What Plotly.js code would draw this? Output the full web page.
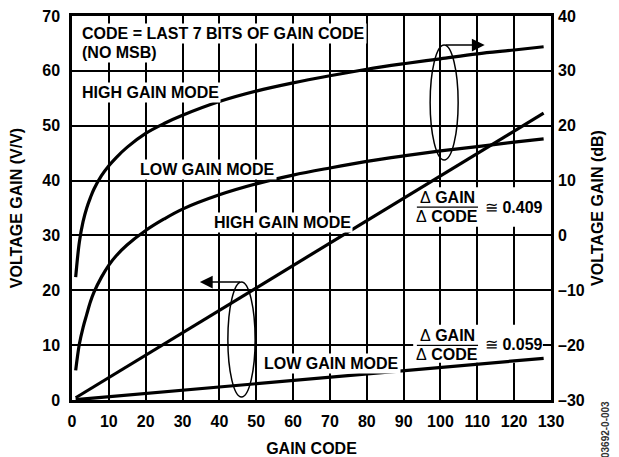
<!DOCTYPE html>
<html>
<head>
<meta charset="utf-8">
<script src="https://cdn.plot.ly/plotly-3.0.1.min.js"></script>
<style>html,body{margin:0;padding:0;background:#fff;}</style>
</head>
<body>
<div id="chart" style="width:619px;height:457px;"></div>
<script>
// Gain in dB (right axis) vs gain code
var codesDb = [1, 2, 3, 4, 5, 6, 8, 10, 12, 15, 20, 25, 30, 40, 50, 60, 70, 80, 90, 100, 110, 120, 128];
var highGainDb = [-7.6, -1.2, 2.5, 5.0, 6.9, 8.5, 10.9, 12.7, 14.2, 16.1, 18.6, 20.4, 21.9, 24.4, 26.3, 27.8, 29.1, 30.3, 31.3, 32.2, 33.1, 33.8, 34.4];
var lowGainDb = [-24.6, -19.8, -16.8, -14.4, -12.1, -10.3, -7.6, -5.4, -3.7, -1.7, 0.9, 3.0, 4.8, 7.4, 9.4, 11.0, 12.3, 13.5, 14.5, 15.4, 16.2, 17.0, 17.6];
// Gain in V/V (left axis) vs gain code
var codesVv = [1, 128];
var highGainVv = [0.41, 52.3];
var lowGainVv = [0.06, 7.6];
// Tick labels
var xTicks = [0, 10, 20, 30, 40, 50, 60, 70, 80, 90, 100, 110, 120, 130];
var yTicks = [0, 10, 20, 30, 40, 50, 60, 70];
var y2Ticks = [-30, -20, -10, 0, 10, 20, 30, 40];
var y2TickText = ['\u201330', '\u201320', '\u201310', '0', '10', '20', '30', '40'];

var FONT = 'Liberation Sans, Arial, Helvetica, sans-serif';
var bold = {family: FONT, size: 16, color: '#000', weight: 'bold'};
var curve = {color: '#000', width: 3.2};

var traces = [
  {x: codesDb, y: highGainDb, yaxis: 'y2', mode: 'lines', line: Object.assign({shape: 'spline'}, curve), name: 'HIGH GAIN MODE (dB)'},
  {x: codesDb, y: lowGainDb, yaxis: 'y2', mode: 'lines', line: Object.assign({shape: 'spline'}, curve), name: 'LOW GAIN MODE (dB)'},
  {x: codesVv, y: highGainVv, yaxis: 'y', mode: 'lines', line: curve, name: 'HIGH GAIN MODE (V/V)'},
  {x: codesVv, y: lowGainVv, yaxis: 'y', mode: 'lines', line: curve, name: 'LOW GAIN MODE (V/V)'}
];

function lbl(text, x, y, extra) {
  return Object.assign({text: text, x: x, y: y, xref: 'x', yref: 'y', xanchor: 'left', yanchor: 'middle',
    showarrow: false, font: bold, bgcolor: '#fff', borderpad: 1}, extra || {});
}
var D = '<span style="font-weight:normal">\u0394</span>';
var APPROX = '<span style="font-weight:normal">\u2245</span>';

var annotations = [
  lbl('CODE = LAST 7 BITS OF GAIN CODE', 2.2, 66.9),
  lbl('(NO MSB)', 2.2, 63.3),
  lbl('HIGH GAIN MODE', 2.2, 56.1),
  lbl('LOW GAIN MODE', 18.0, 42.1),
  lbl('HIGH GAIN MODE', 38.1, 32.4),
  lbl('LOW GAIN MODE', 51.6, 6.7),
  // 0.409 box
  lbl(D + ' GAIN', 101.9, 36.9, {xanchor: 'center', bgcolor: 'rgba(0,0,0,0)'}),
  lbl(D + ' CODE', 101.9, 33.5, {xanchor: 'center', bgcolor: 'rgba(0,0,0,0)'}),
  lbl(APPROX + ' 0.409', 111.6, 35.1, {bgcolor: 'rgba(0,0,0,0)'}),
  // 0.059 box
  lbl(D + ' GAIN', 101.9, 11.7, {xanchor: 'center', bgcolor: 'rgba(0,0,0,0)'}),
  lbl(D + ' CODE', 101.9, 8.3, {xanchor: 'center', bgcolor: 'rgba(0,0,0,0)'}),
  lbl(APPROX + ' 0.059', 111.6, 10.2, {bgcolor: 'rgba(0,0,0,0)'}),
  // arrows
  {x: 112, y: 34.7, xref: 'x', yref: 'y2', ax: 101, ay: 34.7, axref: 'x', ayref: 'y2', showarrow: true,
    arrowhead: 2, arrowsize: 1.6, arrowwidth: 1.6, arrowcolor: '#000', standoff: 0, text: ''},
  {x: 34.7, y: 21.5, xref: 'x', yref: 'y', ax: 46, ay: 21.5, axref: 'x', ayref: 'y', showarrow: true,
    arrowhead: 2, arrowsize: 1.6, arrowwidth: 1.6, arrowcolor: '#000', standoff: 0, text: ''},
  // figure id
  {text: '03692-0-003', x: 1.115, y: -0.078, xref: 'paper', yref: 'paper', xanchor: 'center', yanchor: 'middle',
    showarrow: false, textangle: -90, font: {family: FONT, size: 10, color: '#333'}}
];

var shapes = [
  {type: 'rect', xref: 'x', yref: 'y', x0: 92.6, x1: 127.8, y0: 31.6, y1: 38.8, fillcolor: '#fff', line: {width: 0}, layer: 'between'},
  {type: 'rect', xref: 'x', yref: 'y', x0: 92.6, x1: 127.8, y0: 6.8, y1: 13.7, fillcolor: '#fff', line: {width: 0}, layer: 'between'},
  {type: 'line', xref: 'x', yref: 'y', x0: 93.6, x1: 110.2, y0: 35.15, y1: 35.15, line: {color: '#000', width: 1.2}},
  {type: 'line', xref: 'x', yref: 'y', x0: 93.6, x1: 110.2, y0: 9.95, y1: 9.95, line: {color: '#000', width: 1.2}},
  {type: 'circle', xref: 'x', yref: 'y2', x0: 97.2, x1: 104.8, y0: 13.75, y1: 34.7, line: {color: '#000', width: 1.5}},
  {type: 'circle', xref: 'x', yref: 'y', x0: 42.3, x1: 49.7, y0: 0.55, y1: 21.5, line: {color: '#000', width: 1.5}}
];

var layout = {
  width: 619, height: 457,
  margin: {l: 72, r: 68, t: 16, b: 57},
  paper_bgcolor: '#fff', plot_bgcolor: '#fff',
  showlegend: false,
  font: bold,
  xaxis: {range: [0, 130], tickvals: xTicks, ticktext: xTicks.map(String), showgrid: true, gridcolor: '#000', gridwidth: 1.5,
    zeroline: false, showline: true, linecolor: '#000', linewidth: 2.5, mirror: true, ticks: '', ticklabelstandoff: 5,
    tickfont: bold, title: {text: 'GAIN CODE', font: bold, standoff: 20}},
  yaxis: {range: [0, 70], tickvals: yTicks, ticktext: yTicks.map(String), showgrid: true, gridcolor: '#000', gridwidth: 1.5,
    zeroline: false, showline: true, linecolor: '#000', linewidth: 2.5, mirror: true, ticks: '', ticklabelstandoff: 6,
    tickfont: bold, title: {text: 'VOLTAGE GAIN (V/V)', font: bold, standoff: 16}},
  yaxis2: {range: [-30, 40], overlaying: 'y', side: 'right', tickvals: y2Ticks, ticktext: y2TickText, showgrid: false,
    zeroline: false, showline: false, ticks: '', ticklabelstandoff: 6, tickfont: bold,
    title: {text: 'VOLTAGE GAIN (dB)', font: bold, standoff: 8}},
  annotations: annotations,
  shapes: shapes
};

Plotly.newPlot('chart', traces, layout, {displayModeBar: false}).then(function () {
  // a second full layout pass makes sure every gridline is painted
  return Plotly.relayout('chart', {annotations: annotations.slice()});
});
</script>
</body>
</html>
